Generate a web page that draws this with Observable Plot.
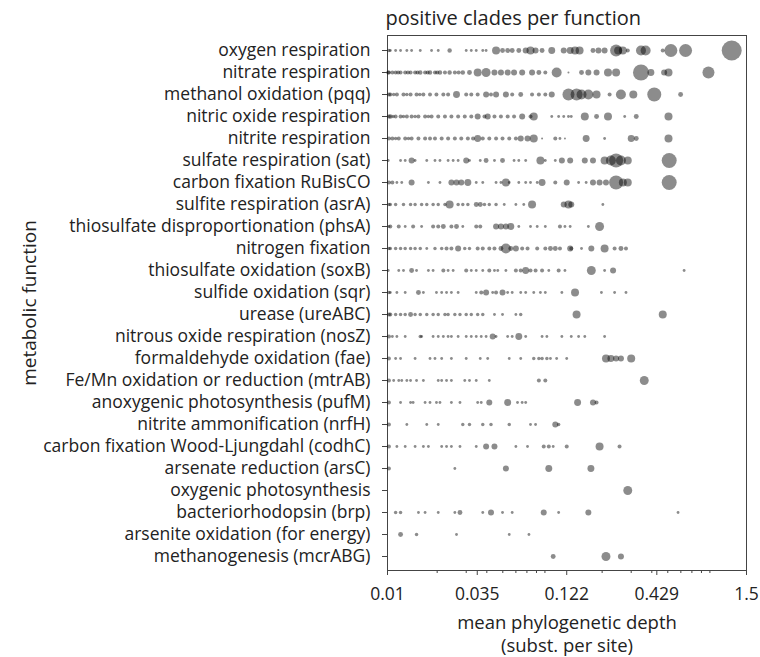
<!DOCTYPE html>
<html><head><meta charset="utf-8">
<script src="https://cdn.jsdelivr.net/npm/d3@7"></script>
<script src="https://cdn.jsdelivr.net/npm/@observablehq/plot@0.6"></script>
<style>body{margin:0;background:#fff}</style>
</head><body><div id="chart"></div>
<script>
const titleText = "positive clades per function";
const xLabelLine1 = "mean phylogenetic depth";
const xLabelLine2 = "(subst. per site)";
const yLabelText = "metabolic function";

const functions = [
  "oxygen respiration", "nitrate respiration", "methanol oxidation (pqq)", "nitric oxide respiration",
  "nitrite respiration", "sulfate respiration (sat)", "carbon fixation RuBisCO", "sulfite respiration (asrA)",
  "thiosulfate disproportionation (phsA)", "nitrogen fixation", "thiosulfate oxidation (soxB)", "sulfide oxidation (sqr)",
  "urease (ureABC)", "nitrous oxide respiration (nosZ)", "formaldehyde oxidation (fae)", "Fe/Mn oxidation or reduction (mtrAB)",
  "anoxygenic photosynthesis (pufM)", "nitrite ammonification (nrfH)", "carbon fixation Wood-Ljungdahl (codhC)", "arsenate reduction (arsC)",
  "oxygenic photosynthesis", "bacteriorhodopsin (brp)", "arsenite oxidation (for energy)", "methanogenesis (mcrABG)"
];

const majorTicks = [0.01, 0.035, 0.122, 0.429, 1.5];
const minorTicks = [0.02, 0.03, 0.04, 0.05, 0.06, 0.07, 0.08, 0.09, 0.2, 0.3, 0.4, 0.5, 0.6, 0.7, 0.8, 0.9];

// [mean phylogenetic depth, clade size]
const oxygenRespiration = [[0.0102,3],[0.0104,2],[0.0112,2],[0.012,2],[0.0131,2],[0.014,2],[0.0158,2],[0.0185,2],[0.0203,2],[0.0238,5],[0.03,2],[0.0322,2],[0.0345,2],[0.0378,2],[0.0396,2],[0.0455,16],[0.0498,6],[0.0535,6],[0.057,6],[0.0625,6],[0.0688,9],[0.0736,16],[0.079,9],[0.0865,6],[0.099,12],[0.117,9],[0.128,12],[0.137,16],[0.146,16],[0.176,6],[0.19,9],[0.207,9],[0.243,36],[0.25,16],[0.267,16],[0.286,4],[0.344,25],[0.367,25],[0.466,4],[0.522,42],[0.641,42],[1.22,100]];
const nitrateRespiration = [[0.0101,4],[0.0102,4],[0.0107,4],[0.0112,4],[0.0116,4],[0.012,4],[0.0128,4],[0.0133,4],[0.0138,4],[0.0147,4],[0.0152,4],[0.0158,5],[0.0169,4],[0.0175,4],[0.0181,5],[0.0194,4],[0.02,4],[0.0208,5],[0.0223,4],[0.0238,5],[0.0256,4],[0.027,4],[0.0286,5],[0.0314,6],[0.0352,16],[0.0396,20],[0.0445,9],[0.0487,9],[0.0535,9],[0.0585,9],[0.0655,9],[0.0752,9],[0.0827,6],[0.0905,4],[0.106,25],[0.125,1],[0.15,6],[0.165,9],[0.185,9],[0.217,16],[0.243,16],[0.344,64],[0.395,12],[0.475,9],[0.505,16],[0.882,36]];
const methanolOxidation = [[0.0102,4],[0.0104,4],[0.0109,3],[0.0114,4],[0.0125,4],[0.0131,3],[0.0138,4],[0.015,4],[0.0157,3],[0.0165,4],[0.0181,4],[0.0198,4],[0.0218,4],[0.0233,4],[0.0262,12],[0.03,4],[0.0322,4],[0.0352,4],[0.0396,9],[0.0424,4],[0.0455,9],[0.0522,9],[0.057,4],[0.0642,6],[0.0752,4],[0.0827,4],[0.0905,4],[0.099,9],[0.125,36],[0.14,36],[0.15,25],[0.165,25],[0.185,16],[0.222,4],[0.26,25],[0.309,16],[0.414,49],[0.598,6]];
const nitricOxideRespiration = [[0.0102,4],[0.0104,5],[0.0108,3],[0.0112,4],[0.012,4],[0.0125,3],[0.0131,4],[0.014,4],[0.0147,3],[0.0154,4],[0.0169,4],[0.0177,3],[0.0185,4],[0.0203,4],[0.0223,4],[0.0244,4],[0.0268,4],[0.0294,4],[0.0322,4],[0.0352,9],[0.0387,4],[0.0405,9],[0.0445,4],[0.0487,4],[0.0535,4],[0.0585,4],[0.0655,9],[0.0736,4],[0.077,16],[0.099,2],[0.109,2],[0.117,2],[0.125,2],[0.13,2],[0.157,16],[0.185,6],[0.217,16],[0.274,2],[0.322,6],[0.505,16]];
const nitriteRespiration = [[0.0102,4],[0.0107,4],[0.0112,3],[0.0117,4],[0.0128,4],[0.0134,3],[0.014,4],[0.0154,4],[0.0169,4],[0.0181,4],[0.0194,4],[0.0213,4],[0.0233,4],[0.0256,4],[0.028,4],[0.0307,4],[0.033,4],[0.0352,12],[0.0378,4],[0.0414,4],[0.0455,4],[0.0498,4],[0.0547,4],[0.06,4],[0.0642,9],[0.0706,9],[0.077,16],[0.0865,1],[0.104,4],[0.111,2],[0.119,1],[0.16,12],[0.207,2],[0.3,12],[0.322,6],[0.505,16]];
const sulfateRespiration = [[0.0101,2],[0.012,2],[0.0128,2],[0.014,9],[0.0147,2],[0.0173,2],[0.0194,2],[0.0208,2],[0.0233,2],[0.025,2],[0.0268,2],[0.03,9],[0.0314,2],[0.0365,2],[0.0396,6],[0.0445,2],[0.0498,6],[0.0585,2],[0.0625,2],[0.0688,2],[0.0845,16],[0.0905,2],[0.104,2],[0.114,9],[0.128,9],[0.157,9],[0.176,9],[0.207,16],[0.226,25],[0.243,49],[0.26,25],[0.286,16],[0.51,56]];
const carbonFixationRubisco = [[0.0102,4],[0.0107,4],[0.0114,2],[0.0122,2],[0.014,9],[0.0177,2],[0.0208,2],[0.0244,9],[0.0262,9],[0.028,9],[0.0307,12],[0.0345,2],[0.0378,2],[0.0455,2],[0.0487,2],[0.0522,16],[0.0547,2],[0.0625,2],[0.0688,2],[0.0736,2],[0.0808,2],[0.0865,12],[0.104,4],[0.122,9],[0.144,2],[0.16,2],[0.176,9],[0.193,9],[0.211,9],[0.243,49],[0.267,16],[0.286,16],[0.51,56]];
const sulfiteRespiration = [[0.0102,3],[0.0104,3],[0.0112,3],[0.0125,3],[0.0138,3],[0.0147,3],[0.0161,3],[0.0173,3],[0.0189,3],[0.0203,3],[0.0223,3],[0.0238,16],[0.0268,3],[0.0286,3],[0.0307,3],[0.0345,6],[0.0365,6],[0.0387,3],[0.0414,3],[0.0455,3],[0.051,2],[0.06,2],[0.067,2],[0.0752,16],[0.117,9],[0.125,16],[0.13,9],[0.202,2]];
const thiosulfateDisproportionation = [[0.0102,2],[0.0104,4],[0.0117,4],[0.0128,2],[0.0143,4],[0.0161,2],[0.0189,4],[0.0203,4],[0.0218,6],[0.0244,4],[0.0262,6],[0.0286,2],[0.0345,4],[0.0365,4],[0.0455,9],[0.0487,9],[0.0522,9],[0.0559,12],[0.0625,2],[0.0736,2],[0.0808,2],[0.0905,2],[0.111,4],[0.119,2],[0.128,2],[0.165,2],[0.193,20]];
const nitrogenFixation = [[0.0102,3],[0.0104,3],[0.0112,3],[0.012,3],[0.0128,3],[0.0138,3],[0.0147,3],[0.0158,3],[0.0173,2],[0.0194,3],[0.0213,3],[0.0228,4],[0.0244,4],[0.0268,9],[0.0294,3],[0.0314,3],[0.0352,4],[0.0378,4],[0.0414,4],[0.0445,4],[0.0487,6],[0.0522,25],[0.0559,6],[0.06,9],[0.0655,4],[0.0706,4],[0.0808,4],[0.0905,4],[0.0972,6],[0.104,6],[0.111,4],[0.128,9],[0.13,4],[0.15,2],[0.172,9],[0.207,16],[0.238,4],[0.26,6],[0.279,4]];
const thiosulfateOxidation = [[0.0101,2],[0.0117,2],[0.0125,2],[0.014,6],[0.015,2],[0.0177,2],[0.0189,2],[0.0218,4],[0.0233,2],[0.025,2],[0.03,4],[0.0322,2],[0.0345,2],[0.0378,2],[0.0414,4],[0.0445,2],[0.0466,2],[0.0522,2],[0.06,4],[0.0642,4],[0.0688,12],[0.0736,4],[0.079,4],[0.0865,4],[0.095,2],[0.109,4],[0.119,2],[0.172,20],[0.207,2],[0.233,9],[0.628,2]];
const sulfideOxidation = [[0.0102,3],[0.0104,2],[0.0114,2],[0.0128,2],[0.0154,6],[0.0165,2],[0.0198,2],[0.0213,2],[0.0228,2],[0.0244,2],[0.0268,2],[0.0345,2],[0.037,4],[0.0396,9],[0.0434,2],[0.0455,4],[0.0498,9],[0.0535,2],[0.057,2],[0.0642,2],[0.0688,2],[0.077,2],[0.0845,2],[0.0905,2],[0.114,2],[0.137,16],[0.198,2],[0.238,2],[0.279,2]];
const urease = [[0.0102,4],[0.0104,4],[0.0112,3],[0.012,3],[0.0128,3],[0.0138,6],[0.0147,3],[0.0158,3],[0.0173,3],[0.0189,3],[0.0203,3],[0.0223,3],[0.0233,3],[0.0256,3],[0.0275,3],[0.03,3],[0.0322,3],[0.0352,3],[0.0378,3],[0.0445,2],[0.0498,2],[0.06,2],[0.0642,3],[0.14,16],[0.466,16]];
const nitrousOxideRespiration = [[0.0102,4],[0.0107,2],[0.0114,2],[0.0128,2],[0.0158,3],[0.0161,2],[0.0189,2],[0.0203,2],[0.0218,2],[0.0233,2],[0.0244,2],[0.0268,2],[0.03,2],[0.0322,2],[0.0345,2],[0.037,2],[0.0396,2],[0.0434,9],[0.0455,2],[0.0535,2],[0.057,2],[0.0625,12],[0.0688,2],[0.0865,2],[0.0925,2],[0.114,2],[0.13,2],[0.144,2],[0.157,2],[0.207,2]];
const formaldehydeOxidation = [[0.0102,4],[0.0112,2],[0.012,2],[0.0147,2],[0.0181,2],[0.0194,2],[0.0213,2],[0.0244,2],[0.03,2],[0.0365,2],[0.0405,2],[0.0547,2],[0.0642,2],[0.077,3],[0.0827,3],[0.0865,3],[0.0925,3],[0.0972,2],[0.106,2],[0.122,2],[0.211,16],[0.226,12],[0.243,9],[0.26,9],[0.3,16]];
const feMnOxidationReduction = [[0.0102,4],[0.0109,2],[0.0117,2],[0.0122,2],[0.0131,2],[0.0138,2],[0.015,2],[0.0165,2],[0.0203,2],[0.0213,2],[0.0228,2],[0.0244,2],[0.0294,2],[0.0314,2],[0.0345,2],[0.0414,2],[0.0827,4],[0.0905,4],[0.36,20]];
const anoxygenicPhotosynthesis = [[0.0102,4],[0.012,2],[0.0138,2],[0.0143,2],[0.0169,2],[0.0181,2],[0.0198,2],[0.0208,2],[0.0244,2],[0.0275,2],[0.0352,2],[0.037,2],[0.0414,9],[0.0535,12],[0.0614,2],[0.0655,2],[0.0688,2],[0.142,12],[0.176,9],[0.185,4]];
const nitriteAmmonification = [[0.0102,4],[0.0131,2],[0.0173,2],[0.0203,2],[0.0286,3],[0.0314,3],[0.0378,3],[0.0424,3],[0.0547,3],[0.0736,2],[0.079,2],[0.104,9],[0.109,3]];
const carbonFixationWoodLjungdahl = [[0.0102,4],[0.0114,2],[0.0128,2],[0.0147,2],[0.0165,2],[0.0177,2],[0.0213,2],[0.0228,2],[0.0244,2],[0.0275,2],[0.0345,2],[0.0396,9],[0.0445,9],[0.06,2],[0.0706,2],[0.0885,4],[0.095,4],[0.101,2],[0.122,4],[0.193,16],[0.255,4]];
const arsenateReduction = [[0.0102,4],[0.0256,2],[0.0522,9],[0.095,12],[0.171,12]];
const oxygenicPhotosynthesis = [[0.286,20]];
const bacteriorhodopsin = [[0.0112,3],[0.012,3],[0.0154,2],[0.0169,2],[0.0203,2],[0.0256,2],[0.0275,6],[0.0378,2],[0.0424,9],[0.0498,2],[0.057,2],[0.0885,9],[0.109,2],[0.165,9],[0.577,2]];
const arseniteOxidation = [[0.012,6],[0.015,3],[0.0262,2],[0.0547,2],[0.072,2]];
const methanogenesis = [[0.101,6],[0.211,20],[0.26,9]];

const seriesByFunction = [
  oxygenRespiration, nitrateRespiration, methanolOxidation, nitricOxideRespiration,
  nitriteRespiration, sulfateRespiration, carbonFixationRubisco, sulfiteRespiration,
  thiosulfateDisproportionation, nitrogenFixation, thiosulfateOxidation, sulfideOxidation,
  urease, nitrousOxideRespiration, formaldehydeOxidation, feMnOxidationReduction,
  anoxygenicPhotosynthesis, nitriteAmmonification, carbonFixationWoodLjungdahl, arsenateReduction,
  oxygenicPhotosynthesis, bacteriorhodopsin, arseniteOxidation, methanogenesis
];

const points = functions.flatMap((name, i) =>
  seriesByFunction[i].map(([depth, size]) => ({name, depth, size})));

const chart = Plot.plot({
  width: 760,
  height: 657,
  marginLeft: 387,
  marginRight: 14,
  marginTop: 35,
  marginBottom: 87,
  style: {fontFamily: "'Open Sans', sans-serif", fontSize: "17.5px", color: "#222", background: "#fff"},
  x: {type: "log", domain: [0.01, 1.5]},
  y: {type: "point", domain: functions, padding: 0.6},
  r: {type: "sqrt", domain: [0, 100], range: [0, 10]},
  marks: [
    Plot.frame({stroke: "#444"}),
    Plot.dot(points, {x: "depth", y: "name", r: "size", fill: "#000", fillOpacity: 0.45, stroke: null}),
    Plot.axisX({ticks: majorTicks, tickFormat: d => String(d), tickSize: 5, tickPadding: 12, fontSize: 17.5, label: null, stroke: "#444"}),
    Plot.axisX({ticks: minorTicks, tickSize: 3, fill: "none", label: null, stroke: "#444"}),
    Plot.axisY({tickSize: 5, tickPadding: 12, fontSize: 17.5, label: null, stroke: "#444"}),
    Plot.text([titleText], {text: d => d, frameAnchor: "top-left", textAnchor: "start", lineAnchor: "middle", dy: -17, dx: -2, fontSize: 20}),
    Plot.text([xLabelLine1], {text: d => d, frameAnchor: "bottom", textAnchor: "middle", lineAnchor: "middle", dy: 53, fontSize: 18.5}),
    Plot.text([xLabelLine2], {text: d => d, frameAnchor: "bottom", textAnchor: "middle", lineAnchor: "middle", dy: 76, fontSize: 18.5}),
    Plot.text([yLabelText], {text: d => d, frameAnchor: "left", textAnchor: "middle", lineAnchor: "middle", rotate: -90, dx: -358, fontSize: 19})
  ]
});
document.getElementById("chart").appendChild(chart);
</script>
</body></html>
